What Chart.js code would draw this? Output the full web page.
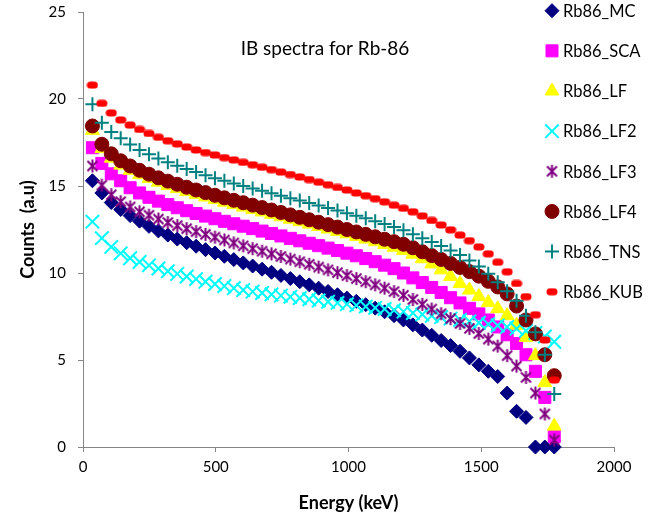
<!DOCTYPE html>
<html>
<head>
<meta charset="utf-8">
<script src="https://cdn.jsdelivr.net/npm/chart.js@4.4.1/dist/chart.umd.min.js"></script>
<style>
    html, body { margin: 0; padding: 0; background: #fff; }
    #wrap { width: 661px; height: 522px; position: relative; }
</style>
</head>
<body>
<div id="wrap"><canvas id="ibChart"></canvas></div>
<script>
// energy bins (keV), same for every series
const energies = [35.5, 71, 106.5, 142, 177.5, 213, 248.5, 284, 319.5, 355,
    390.5, 426, 461.5, 497, 532.5, 568, 603.5, 639, 674.5, 710,
    745.5, 781, 816.5, 852, 887.5, 923, 958.5, 994, 1029.5, 1065,
    1100.5, 1136, 1171.5, 1207, 1242.5, 1278, 1313.5, 1349, 1384.5, 1420,
    1455.5, 1491, 1526.5, 1562, 1597.5, 1633, 1668.5, 1704, 1739.5, 1775];

const rb86MC = [15.3, 14.6, 14.05, 13.65, 13.3, 12.98, 12.68, 12.42, 12.18, 11.95,
    11.74, 11.54, 11.34, 11.15, 10.96, 10.77, 10.58, 10.4, 10.22, 10.04,
    9.86, 9.68, 9.5, 9.32, 9.13, 8.94, 8.75, 8.56, 8.37, 8.18,
    7.98, 7.77, 7.55, 7.3, 7.02, 6.72, 6.42, 6.12, 5.83, 5.5,
    5.12, 4.72, 4.35, 4.05, 3.1, 2.05, 1.7, 0, 0, 0];

const rb86SCA = [17.2, 16.3, 15.7, 15.3, 14.9, 14.6, 14.35, 14.13, 13.93, 13.75,
    13.58, 13.42, 13.27, 13.12, 12.97, 12.83, 12.69, 12.55, 12.41, 12.27,
    12.13, 11.99, 11.85, 11.71, 11.57, 11.43, 11.29, 11.14, 10.99, 10.83,
    10.65, 10.45, 10.25, 10.0, 9.72, 9.45, 9.17, 8.88, 8.58, 8.28,
    7.97, 7.65, 7.3, 6.9, 6.45, 5.95, 5.3, 4.35, 2.85, 0.6];

const rb86LF = [18.2, 17.15, 16.6, 16.2, 15.9, 15.65, 15.43, 15.22, 15.03, 14.85,
    14.68, 14.52, 14.37, 14.22, 14.07, 13.93, 13.79, 13.65, 13.51, 13.37,
    13.23, 13.09, 12.95, 12.81, 12.67, 12.53, 12.39, 12.25, 12.1, 11.95,
    11.8, 11.64, 11.48, 11.3, 11.08, 10.82, 10.52, 10.18, 9.8, 9.4,
    9.02, 8.65, 8.3, 7.95, 7.55, 7.0, 6.3, 5.25, 3.7, 1.2];

const rb86LF2 = [12.95, 12.0, 11.5, 11.13, 10.85, 10.63, 10.44, 10.26, 10.1, 9.95,
    9.8, 9.65, 9.5, 9.37, 9.25, 9.13, 9.02, 8.93, 8.85, 8.77,
    8.7, 8.63, 8.56, 8.49, 8.42, 8.35, 8.28, 8.21, 8.14, 8.07,
    8.0, 7.93, 7.86, 7.78, 7.7, 7.62, 7.54, 7.46, 7.38, 7.3,
    7.22, 7.14, 7.06, 6.98, 6.9, 6.8, 6.68, 6.55, 6.35, 6.05];

const rb86LF3 = [16.15, 15.05, 14.5, 14.1, 13.8, 13.52, 13.32, 13.1, 12.9, 12.72,
    12.55, 12.38, 12.22, 12.06, 11.9, 11.73, 11.56, 11.4, 11.25, 11.1,
    10.95, 10.8, 10.65, 10.5, 10.34, 10.18, 10.02, 9.85, 9.68, 9.5,
    9.32, 9.13, 8.93, 8.72, 8.48, 8.2, 7.93, 7.66, 7.38, 7.1,
    6.82, 6.52, 6.2, 5.8, 5.25, 4.65, 4.0, 3.1, 1.9, 0.4];

const rb86LF4 = [18.45, 17.4, 16.85, 16.45, 16.15, 15.9, 15.68, 15.47, 15.28, 15.1,
    14.93, 14.77, 14.62, 14.47, 14.32, 14.18, 14.04, 13.9, 13.76, 13.62,
    13.48, 13.34, 13.2, 13.06, 12.92, 12.78, 12.64, 12.5, 12.36, 12.22,
    12.08, 11.94, 11.8, 11.65, 11.45, 11.22, 11.0, 10.78, 10.55, 10.32,
    10.08, 9.82, 9.52, 9.2, 8.8, 8.1, 7.3, 6.5, 5.3, 4.1];

const rb86TNS = [19.7, 18.64, 18.1, 17.74, 17.38, 17.07, 16.82, 16.58, 16.36, 16.16,
    15.97, 15.8, 15.62, 15.45, 15.3, 15.15, 15.0, 14.86, 14.72, 14.58,
    14.44, 14.3, 14.16, 14.02, 13.88, 13.74, 13.59, 13.44, 13.29, 13.14,
    12.98, 12.82, 12.65, 12.45, 12.22, 12.0, 11.78, 11.55, 11.3, 11.03,
    10.72, 10.38, 9.95, 9.47, 8.95, 8.4, 7.55, 6.6, 5.3, 3.05];

const rb86KUB = [20.8, 19.75, 19.2, 18.8, 18.5, 18.25, 18.02, 17.8, 17.6, 17.42,
    17.24, 17.07, 16.92, 16.78, 16.63, 16.5, 16.36, 16.22, 16.08, 15.94,
    15.8, 15.66, 15.52, 15.37, 15.22, 15.07, 14.92, 14.77, 14.6, 14.44,
    14.27, 14.09, 13.9, 13.72, 13.52, 13.28, 13.02, 12.76, 12.48, 12.18,
    11.86, 11.5, 11.1, 10.62, 10.07, 9.4, 8.64, 7.6, 6.15, 3.85];

const seriesNames = ['Rb86_MC', 'Rb86_SCA', 'Rb86_LF', 'Rb86_LF2',
    'Rb86_LF3', 'Rb86_LF4', 'Rb86_TNS', 'Rb86_KUB'];

const xTicks = [0, 500, 1000, 1500, 2000];
const yTicks = [0, 5, 10, 15, 20, 25];

const chartTitle = 'IB spectra for Rb-86';
const xTitle = 'Energy (keV)';
const yTitle = 'Counts  (a.u)';

const FONT = 'Lato, "Open Sans", sans-serif';

// excel-like asterisk marker
function makeStar(color) {
    const c = document.createElement('canvas');
    c.width = 15;
    c.height = 15;
    const g = c.getContext('2d');
    g.strokeStyle = color;
    g.lineWidth = 2;
    g.beginPath();
    g.moveTo(2.5, 2.5); g.lineTo(12.5, 12.5);
    g.moveTo(12.5, 2.5); g.lineTo(2.5, 12.5);
    g.moveTo(7.5, 1); g.lineTo(7.5, 14);
    g.stroke();
    return c;
}

// short rounded dash marker
function makeDash(color) {
    const c = document.createElement('canvas');
    c.width = 12;
    c.height = 8;
    const g = c.getContext('2d');
    g.strokeStyle = color;
    g.lineWidth = 7;
    g.lineCap = 'round';
    g.beginPath();
    g.moveTo(4, 4);
    g.lineTo(8, 4);
    g.stroke();
    return c;
}

const styles = [
    { color: '#000080', pointStyle: 'rectRot', radius: 7, borderWidth: 1 },
    { color: '#FF00FF', pointStyle: 'rect', radius: 8.5, borderWidth: 1 },
    { color: '#FFFF00', pointStyle: 'triangle', radius: 8, borderWidth: 1 },
    { color: '#00FFFF', pointStyle: 'crossRot', radius: 9.5, borderWidth: 2 },
    { color: '#800080', pointStyle: makeStar('#800080'), radius: 7, borderWidth: 0 },
    { color: '#800000', pointStyle: 'circle', radius: 7, borderWidth: 1 },
    { color: '#008080', pointStyle: 'cross', radius: 7, borderWidth: 2 },
    { color: '#FF0000', pointStyle: makeDash('#FF0000'), radius: 5, borderWidth: 0 }
];

const allSeries = [rb86MC, rb86SCA, rb86LF, rb86LF2, rb86LF3, rb86LF4, rb86TNS, rb86KUB];

const datasets = allSeries.map((vals, k) => ({
    label: seriesNames[k],
    data: vals.map((v, i) => ({ x: energies[i], y: v })),
    showLine: false,
    pointStyle: styles[k].pointStyle,
    pointRadius: styles[k].radius,
    pointBorderWidth: styles[k].borderWidth,
    pointBackgroundColor: styles[k].color,
    pointBorderColor: styles[k].color,
    clip: false,
    // later series on top, like excel
    order: allSeries.length - k
}));

const overlay = {
    id: 'overlay',
    afterDraw(chart) {
        const ctx = chart.ctx;
        const area = chart.chartArea;
        ctx.save();
        ctx.fillStyle = '#000';
        ctx.textBaseline = 'middle';
        ctx.textAlign = 'center';

        ctx.font = '19px ' + FONT;
        ctx.fillText(chartTitle, area.left + 242, area.top + 37);

        ctx.font = 'bold 18px ' + FONT;
        ctx.fillText(xTitle, (area.left + area.right) / 2, area.bottom + 56);

        ctx.save();
        ctx.translate(28, (area.top + area.bottom) / 2);
        ctx.rotate(-Math.PI / 2);
        ctx.fillText(yTitle, 0, 0);
        ctx.restore();

        // legend, drawn over the plot like the original
        ctx.textAlign = 'left';
        ctx.font = '16.5px ' + FONT;
        styles.forEach((s, k) => {
            const y = 10.7 + 40.15 * k;
            ctx.fillStyle = s.color;
            ctx.strokeStyle = s.color;
            ctx.lineWidth = s.borderWidth;
            Chart.helpers.drawPoint(ctx, {
                pointStyle: s.pointStyle,
                rotation: 0,
                radius: s.radius,
                borderWidth: s.borderWidth
            }, 552, y);
            ctx.fillStyle = '#000';
            ctx.fillText(seriesNames[k], 563, y + 1);
        });
        ctx.restore();
    }
};

const axisGrid = {
    display: true,
    drawOnChartArea: false,
    drawTicks: true,
    tickLength: 5,
    color: '#868686'
};

new Chart(document.getElementById('ibChart'), {
    type: 'scatter',
    data: { datasets: datasets },
    options: {
        responsive: true,
        maintainAspectRatio: false,
        animation: false,
        events: [],
        layout: {
            padding: { top: 12, right: 47, left: 0, bottom: 0 }
        },
        plugins: {
            legend: { display: false },
            tooltip: { enabled: false },
            title: { display: false }
        },
        scales: {
            x: {
                type: 'linear',
                min: 0,
                max: 2000,
                afterBuildTicks: (s) => { s.ticks = xTicks.map(v => ({ value: v })); },
                afterFit: (s) => {
                    s.height = 75;
                    s.paddingLeft = 0;
                    s.paddingRight = 0;
                },
                ticks: {
                    color: '#000',
                    padding: 6,
                    font: { family: FONT, size: 15 },
                    callback: (v) => String(v)
                },
                grid: axisGrid,
                border: { color: '#868686', width: 1 }
            },
            y: {
                min: 0,
                max: 25,
                afterBuildTicks: (s) => { s.ticks = yTicks.map(v => ({ value: v })); },
                afterFit: (s) => {
                    s.width = 83;
                    s.paddingTop = 0;
                    s.paddingBottom = 0;
                },
                ticks: {
                    color: '#000',
                    padding: 12,
                    font: { family: FONT, size: 15 },
                    callback: (v) => String(v)
                },
                grid: axisGrid,
                border: { color: '#868686', width: 1 }
            }
        }
    },
    plugins: [overlay]
});
</script>
</body>
</html>
